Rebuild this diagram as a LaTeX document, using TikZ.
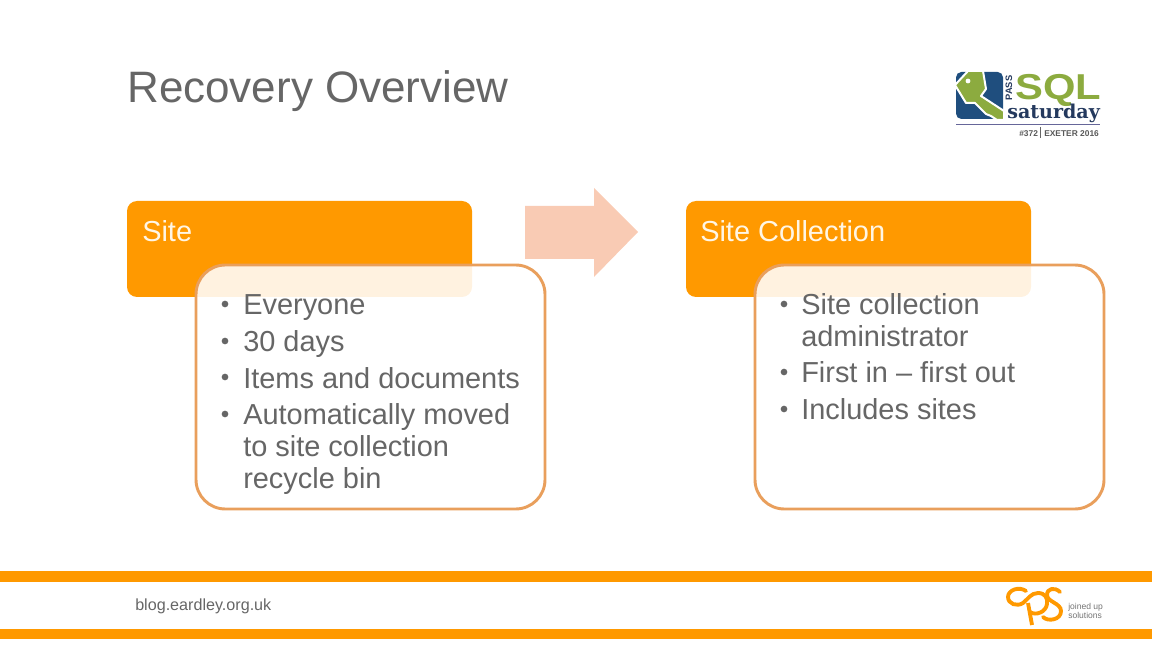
\documentclass[tikz,border=0pt]{standalone}
\usepackage{fontspec}
\setmainfont{Liberation Sans}
\newfontfamily\slabfont{DejaVu Serif}
\definecolor{barorange}{HTML}{FF9900}
\definecolor{boxline}{HTML}{E99F5C}
\definecolor{arrowpeach}{HTML}{F9CBB4}
\definecolor{bodygray}{HTML}{666666}
\definecolor{headcream}{HTML}{FFF6E5}
\definecolor{keygreen}{HTML}{8CAB3F}
\definecolor{keyblue}{HTML}{1F4E7E}
\definecolor{navyink}{HTML}{24395E}
\tikzset{headbox/.style={draw=none, fill=barorange, rounded corners=7.5pt},
         listbox/.style={draw=boxline, line width=2.2pt, fill=white, fill opacity=0.88, rounded corners=22pt},
         headtext/.style={anchor=base west, inner sep=0, text=headcream, font=\fontsize{21.7}{26}\selectfont},
         listtext/.style={anchor=base west, inner sep=0, text=bodygray, align=left, font=\fontsize{21.7}{24}\selectfont},
         dotmark/.style={circle, fill=bodygray, inner sep=0, minimum size=5pt},
         footbar/.style={draw=none, fill=barorange},
         cpsline/.style={draw=barorange, line width=2.9pt, line cap=round}
}
\begin{document}
\begin{tikzpicture}[x=0.75pt,y=-0.75pt]
\useasboundingbox (0,0) rectangle (1152,648);

% title
\node[anchor=base west, inner sep=0, text=bodygray, font=\fontsize{33}{36}\selectfont] (title) at (127,102.5) {Recovery Overview};

% sql saturday logo
\fill[keyblue, rounded corners=4pt] (956,72) rectangle (1003,119);
\draw[white, line width=1.5pt, fill=keygreen, line join=round]
    (955,85) -- (968,71) -- (983,71) -- (986,89) -- (981,96) -- (1004,111) -- (1004,120) -- (997,120) -- (991,116) -- (986,114) -- (975,103) -- (966,103) -- cycle;
\fill[white] (968,81) circle [radius=2.4];
\node[rotate=90, inner sep=0, text=navyink, font=\bfseries\fontsize{7}{8}\selectfont] (passmark) at (1009,88) {PASS};
\node[anchor=base west, inner sep=0, text=keygreen, font=\bfseries\fontsize{27}{30}\selectfont] (sqlmark) at (1015,100) {\scalebox{1.16}[1]{SQL}};
\node[anchor=base west, inner sep=0, text=navyink, font=\slabfont\bfseries\fontsize{14.3}{16}\selectfont] (satmark) at (1007,119) {saturday};
\draw[gray!80!blue, line width=0.6pt] (956,124) -- (1100,124);
\node[anchor=base west, inner sep=0, text=black!65, font=\bfseries\fontsize{6.3}{7}\selectfont] (eventmark) at (1019,136.5) {\#372};
\draw[black!60, line width=0.6pt] (1040,127) -- (1040,138);
\node[anchor=base west, inner sep=0, text=black!65, font=\bfseries\fontsize{6.3}{7}\selectfont] (placemark) at (1044,136.5) {EXETER 2016};

% left panel
\path[headbox] (127,201) rectangle (472,297);
\node[headtext] (sitehead) at (142,242) {Site};
\path[listbox] (196,265) rectangle (545,509);
\foreach \name/\ypos in {a/304,b/341,c/377,d/414}
    \node[dotmark] (dot\name) at (225,\ypos) {};
\node[listtext] (item1) at (243,314.5) {Everyone};
\node[listtext] (item2) at (243,351) {30 days};
\node[listtext] (item3) at (243,388) {Items and documents};
\node[listtext] (item4) at (243,488) {Automatically moved\\to site collection\\recycle bin};

% arrow
\fill[arrowpeach] (525,206) -- (594,206) -- (594,188) -- (638,232) -- (594,277) -- (594,259) -- (525,259) -- cycle;

% right panel
\path[headbox] (686,201) rectangle (1031,297);
\node[headtext] (colhead) at (700,242) {Site Collection};
\path[listbox] (755,265) rectangle (1104,509);
\foreach \name/\ypos in {e/304,f/372,g/409}
    \node[dotmark] (dot\name) at (784,\ypos) {};
\node[listtext] (item5) at (801,346.5) {Site collection\\administrator};
\node[listtext] (item6) at (801,382.5) {First in – first out};
\node[listtext] (item7) at (801,419.5) {Includes sites};

% footer
\path[footbar] (0,571) rectangle (1152,582);
\path[footbar] (0,629) rectangle (1152,639);
\node[anchor=base west, inner sep=0, text=bodygray, font=\fontsize{12.1}{14}\selectfont] (blogurl) at (135,610) {blog.eardley.org.uk};

% cps logo
\path[cpsline]
    (1026,591) .. controls (1019,586) and (1008,590) .. (1008,597)
    .. controls (1008,604) and (1017,607) .. (1023,603)
    .. controls (1028,599) and (1031,593) .. (1038,593)
    .. controls (1045,593) and (1048,598) .. (1047,604)
    .. controls (1046,612) and (1036,616) .. (1030,612);
\path[cpsline, line cap=butt] (1028,603) -- (1032,625);
\path[cpsline]
    (1060,592) .. controls (1055,587) and (1047,588) .. (1047,595)
    .. controls (1047,602) and (1061,603) .. (1061,611)
    .. controls (1061,620) and (1048,622) .. (1043,617);
\node[anchor=base west, inner sep=0, text=black!55, font=\fontsize{6.4}{7}\selectfont] (joinmark) at (1068,609) {joined up};
\node[anchor=base west, inner sep=0, text=black!55, font=\fontsize{6.4}{7}\selectfont] (solmark) at (1068,618) {solutions};
\end{tikzpicture}
\end{document}
